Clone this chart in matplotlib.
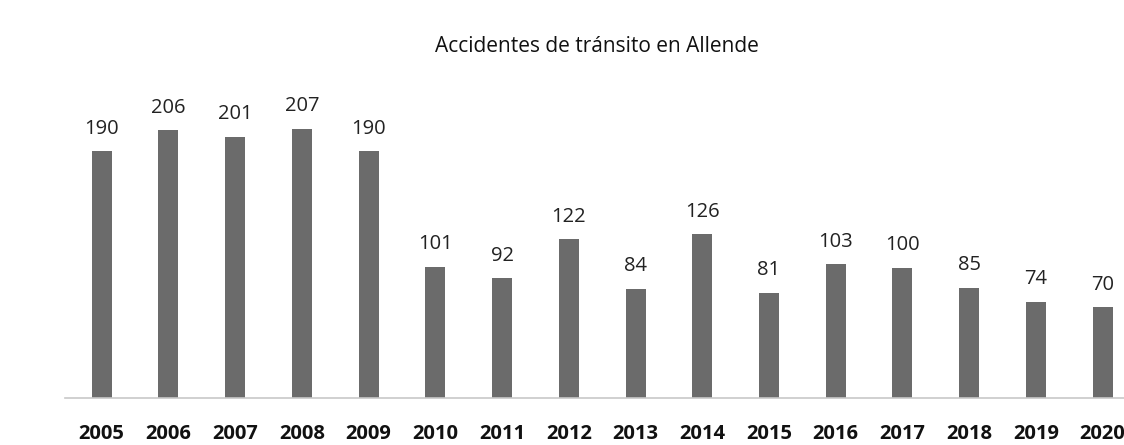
import matplotlib
matplotlib.use("Agg")
import matplotlib.pyplot as plt

years = ['2005', '2006', '2007', '2008', '2009', '2010', '2011', '2012',
         '2013', '2014', '2015', '2016', '2017', '2018', '2019', '2020']
accidentes = [190, 206, 201, 207, 190, 101, 92, 122, 84, 126, 81, 103, 100, 85, 74, 70]

plt.rcParams['font.family'] = ['Open Sans', 'DejaVu Sans']

fig = plt.figure(figsize=(11.24, 4.45), dpi=100)
ax = fig.add_axes([65 / 1124, 47 / 445, 1 - 65 / 1124, 325 / 445])

x = list(range(len(years)))
bars = ax.bar(x, accidentes, width=0.3, color='#6b6b6b')

for xi, v in zip(x, accidentes):
    ax.annotate(str(v), (xi, v), xytext=(0, 9), textcoords='offset points',
                ha='center', va='bottom', fontsize=14.5, color='#222222')

ax.set_xlim(-0.55, 15.32)
ax.set_ylim(0, 250)
ax.set_xticks(x)
ax.set_xticklabels(years, fontsize=14.5, fontweight='bold', color='#111111')
ax.tick_params(axis='x', length=0, pad=19)
ax.set_yticks([])
for s in ['top', 'right', 'left']:
    ax.spines[s].set_visible(False)
ax.spines['bottom'].set_color('#c8c8c8')
ax.spines['bottom'].set_linewidth(1.2)

fig.suptitle('Accidentes de tránsito en Allende', x=597 / 1124, y=1 - 47 / 445,
             va='center', fontsize=15, color='#111111')

fig.savefig('out.png', dpi=100, facecolor='white')
